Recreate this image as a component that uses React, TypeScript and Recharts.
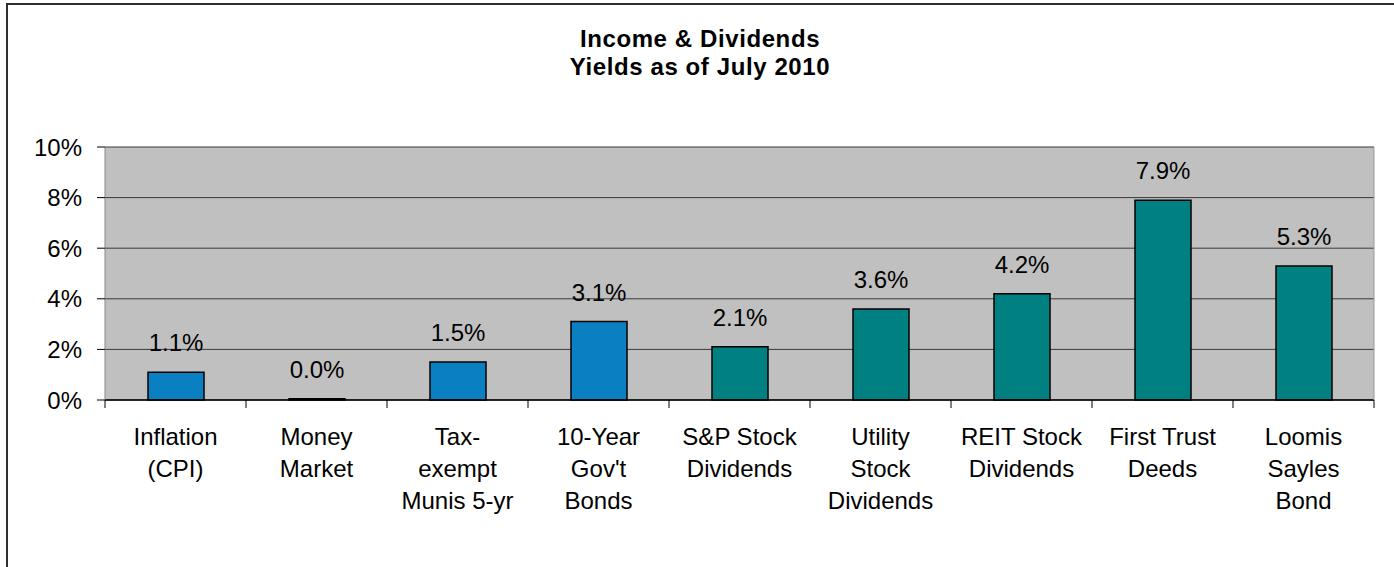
import { BarChart, Bar, XAxis, YAxis, CartesianGrid, LabelList, Cell } from "recharts";

const categories = [
  "Inflation\n(CPI)",
  "Money\nMarket",
  "Tax-\nexempt\nMunis 5-yr",
  "10-Year\nGov't\nBonds",
  "S&P Stock\nDividends",
  "Utility\nStock\nDividends",
  "REIT Stock\nDividends",
  "First Trust\nDeeds",
  "Loomis\nSayles\nBond",
];
// yields in percent
const yields = [1.1, 0.045, 1.5, 3.1, 2.1, 3.6, 4.2, 7.9, 5.3];
const groups = ["benchmark", "benchmark", "benchmark", "benchmark", "income", "income", "income", "income", "income"];
const yTicks = [0, 2, 4, 6, 8, 10];

const GROUP_COLORS: Record<string, string> = { benchmark: "#0a7fc1", income: "#008080" };
const FONT = "'Liberation Sans', Arial, sans-serif";

const data = categories.map((name, i) => ({ name, value: yields[i], group: groups[i] }));

function CategoryTick(props: any) {
  const { x, y, payload, width, visibleTicksCount, index } = props;
  const band = width / visibleTicksCount;
  const lines = String(payload.value).split("\n");
  const left = x - band / 2;
  return (
    <g>
      <line x1={left} y1={y} x2={left} y2={y + 8} stroke="#000" strokeWidth={1} />
      {index === visibleTicksCount - 1 && (
        <line x1={x + band / 2} y1={y} x2={x + band / 2} y2={y + 8} stroke="#000" strokeWidth={1} />
      )}
      <text x={x} y={y + 45} textAnchor="middle" fontSize={24} fontFamily={FONT} fill="#000">
        {lines.map((l, i) => (
          <tspan key={i} x={x} dy={i === 0 ? 0 : 32}>
            {l}
          </tspan>
        ))}
      </text>
    </g>
  );
}

export default function App() {
  return (
    <div style={{ position: "relative", width: 1394, height: 567, overflow: "hidden", background: "#fff" }}>
      <style>{`body{margin:0}`}</style>
      <div
        style={{
          position: "absolute",
          left: 6,
          top: 3,
          width: 1500,
          height: 700,
          borderLeft: "2px solid #2e2e2e",
          borderTop: "2px solid #2e2e2e",
        }}
      />
      <div
        style={{
          position: "absolute",
          left: 0,
          top: 25,
          width: 1400,
          textAlign: "center",
          fontFamily: FONT,
          fontWeight: "bold",
          fontSize: 24,
          letterSpacing: 0.6,
          lineHeight: "28px",
          color: "#000",
        }}
      >
        Income &amp; Dividends
        <br />
        Yields as of July 2010
      </div>
      <div style={{ position: "absolute", left: 0, top: 0 }}>
        <BarChart
          width={1394}
          height={567}
          data={data}
          margin={{ top: 147, right: 19, bottom: 137, left: 10 }}
          barCategoryGap="30%"
        >
          <CartesianGrid vertical={false} stroke="#3a3a3a" fill="#c0c0c0" yAxisId="left" />
          <XAxis
            dataKey="name"
            interval={0}
            height={30}
            tickLine={false}
            tickSize={0}
            tickMargin={0}
            axisLine={{ stroke: "#000", strokeWidth: 1.5 }}
            tick={<CategoryTick />}
            yAxisId="left"
          />
          <YAxis
            yAxisId="left"
            width={95}
            domain={[0, 10]}
            ticks={yTicks}
            tickFormatter={(v: number) => `${v}%`}
            tickSize={8}
            tickMargin={15}
            tickLine={{ stroke: "#000" }}
            axisLine={{ stroke: "#888" }}
            tick={{ fontSize: 24, fontFamily: FONT, fill: "#000" }}
          />
          <YAxis
            yAxisId="right"
            orientation="right"
            width={1}
            domain={[0, 10]}
            ticks={yTicks}
            tick={false}
            tickLine={false}
            axisLine={{ stroke: "#999" }}
          />
          <Bar dataKey="value" yAxisId="left" barSize={56} stroke="#000" strokeWidth={1.5} isAnimationActive={false}>
            {data.map((d) => (
              <Cell key={d.name} fill={GROUP_COLORS[d.group]} />
            ))}
            <LabelList
              dataKey="value"
              position="top"
              offset={21}
              formatter={(v: any) => `${Number(v).toFixed(1)}%`}
              fill="#000"
              fontSize={24}
              fontFamily={FONT}
            />
          </Bar>
        </BarChart>
      </div>
    </div>
  );
}
